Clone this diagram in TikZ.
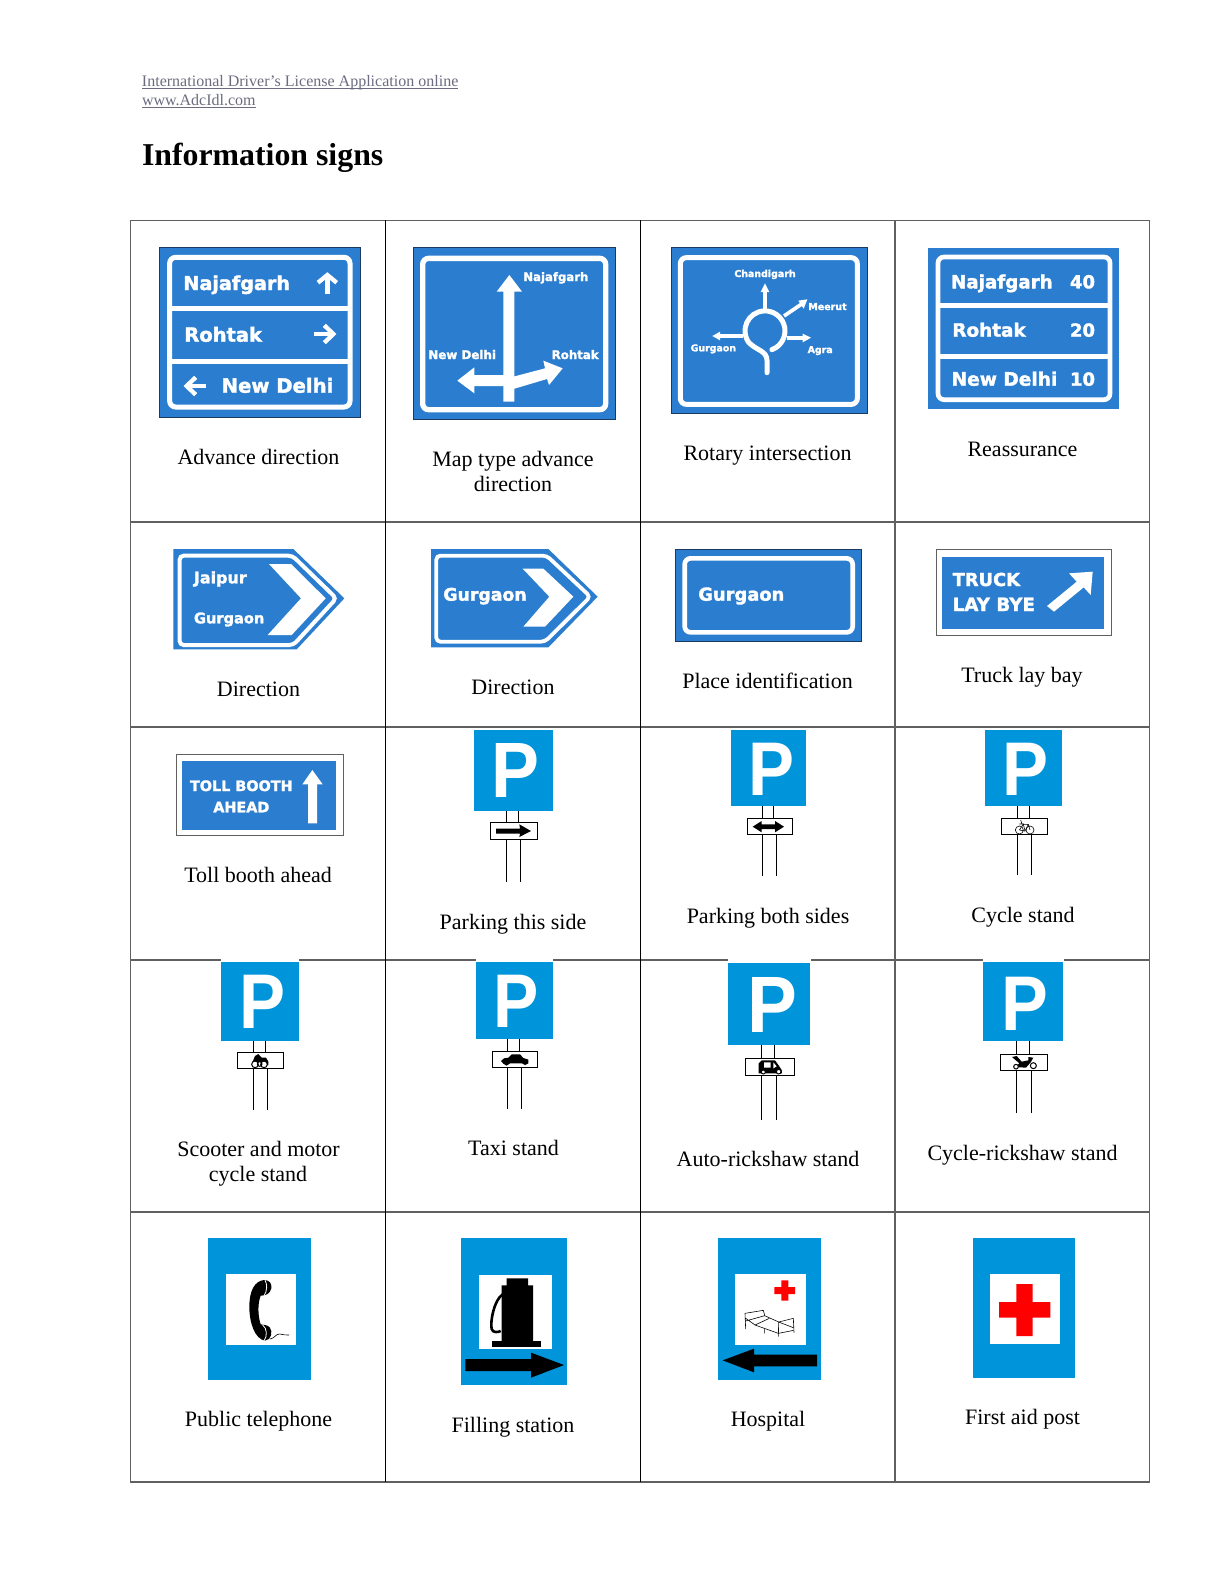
\documentclass[tikz,border=0pt]{standalone}
\usepackage{graphicx}
\usepackage{fontspec}
\setmainfont{Liberation Serif}
\newfontfamily\sgn[UprightFont=* Bold,FakeBold=1.8]{DejaVu Sans}
\newfontfamily\pfont[UprightFont=* Bold]{Liberation Sans}
\definecolor{sblue}{HTML}{2B7DD0}
\definecolor{pblue}{HTML}{0095DA}
\definecolor{gridg}{HTML}{606060}
\definecolor{hdr}{HTML}{6C6C80}
\definecolor{sedge}{HTML}{1B3A60}
\tikzset{
 z/.style 2 args={shift={(#1,#2)},x=0.166667pt,y=-0.166667pt},
 shown/.style={x=0.50495pt,y=-0.50495pt},
 signbg/.style={fill=sblue,draw=sedge,line width=.4pt},
 signplain/.style={fill=sblue},
 sborder/.style={draw=white,line width=#1/6 pt,rounded corners=3pt},
 sbar/.style={draw=white,line width=#1/6 pt},
 stxt/.style={text=white,font=\sgn},
 warr/.style={fill=white},
 warl/.style={draw=white,line width=#1/6 pt,miter limit=10},
 barr/.style={fill=black},
 capt/.style={anchor=base,inner sep=0pt,font=\fontsize{11}{13}\selectfont},
 post/.style={draw=black,line width=.45pt},
 plate/.style={draw=black,fill=white,line width=.5pt},
 thinbox/.style={draw=gridg,fill=white,line width=.5pt},
 gridline/.style={draw=gridg,line width=.6pt},
 gridblack/.style={draw=black,line width=.45pt},
 hdrline/.style={draw=hdr,line width=.4pt},
 bedline/.style={draw=black,line width=.3pt},
}
\newcommand\fitt[6]{%
 \pgfmathsetmacro\fW{(#3-#2)/6}\pgfmathsetmacro\fX{(#2+#3)/2}%
 \node[anchor=base,inner sep=0pt,#5] (#1) at (\fX,#4) {\resizebox{\fW pt}{!}{#6}};}
% name, blue x0 x1 y0 y1, P x0 x1 y0 y1
\newcommand\psign[9]{%
 \fill[pblue] (#2,#4) rectangle (#3,#5);
 \pgfmathsetmacro\fW{(#7-#6)*1.15/6}\pgfmathsetmacro\fH{(#9-#8)/6}\pgfmathsetmacro\fX{(#6+#7)/2-1}%
 \node[anchor=base,inner sep=0pt,text=white,font=\pfont] (#1) at (\fX,#9) {\resizebox{\fW pt}{\fH pt}{P}};}
\begin{document}
\begin{tikzpicture}[x=0.5pt,y=-0.5pt]
\useasboundingbox (0,0) rectangle (1224,1584);
\fill[white] (0,0) rectangle (1224,1584);
% grid
\draw[gridline] (130.5,220.3) rectangle (1149.5,1482);
\foreach \yy in {522,727,960,1212} \draw[gridline] (130.5,\yy) -- (1149.5,\yy);
\draw[gridblack] (385.3,220.3) -- (385.3,1482);
\draw[gridblack] (640.3,220.3) -- (640.3,1482);
\draw[gridline] (895,220.3) -- (895,1482);

% header + first row left
\begin{scope}[z={130}{60}]
\fitt{h1}{36}{985}{80}{text=hdr}{International Driver’s License Application online}
\draw[hdrline] (36,85) -- (985,85);
\fitt{h2}{36}{377}{135}{text=hdr}{www.AdcIdl.com}
\draw[hdrline] (36,141) -- (377,141);
\fitt{title}{36}{760}{315}{}{\bfseries Information signs}
% sign 1
\draw[signbg] (88,562) rectangle (690,1071);
\draw[sborder=15] (119,592) rectangle (660,1041);
\draw[sbar=15] (119,745) -- (660,745);
\draw[sbar=15] (119,905) -- (660,905);
\fitt{a1}{160}{480}{690}{stxt}{Najafgarh}
\fitt{a2}{163}{396}{845}{stxt}{Rohtak}
\fitt{a3}{275}{610}{998}{stxt}{New Delhi}
\draw[warl=13] (592,702) -- (592,645);
\draw[warl=13] (564,668) -- (592,645) -- (620,668);
\draw[warl=13] (552,822) -- (610,822);
\draw[warl=13] (583,796) -- (610,822) -- (583,848);
\draw[warl=13] (228,978) -- (170,978);
\draw[warl=13] (197,952) -- (170,978) -- (197,1004);
% sign 2
\draw[signbg] (850,563) rectangle (1457,1079);
\draw[sborder=16] (878,595) rectangle (1427,1049);
\fill[warr] (1120,1025) -- (1120,695) -- (1100,695) -- (1138,645) -- (1176,695) -- (1153,695) -- (1153,1025) -- cycle;
\fill[warr] (1125,945) -- (1033,945) -- (1033,922) -- (982,962) -- (1033,1000) -- (1033,978) -- (1125,978) -- cycle;
\fill[warr] (1150,950) -- (1245,925) -- (1240,902) -- (1298,925) -- (1257,975) -- (1251,957) -- (1150,987) -- cycle;
\fitt{b1}{1180}{1375}{663}{stxt}{Najafgarh}
\fitt{b2}{895}{1098}{897}{stxt}{New Delhi}
\fitt{b3}{1265}{1406}{897}{stxt}{Rohtak}
\end{scope}

% sign 3, 4
\begin{scope}[z={640}{230}]
\draw[signbg] (94,53) rectangle (681,551);
\draw[sborder=15] (121,83) rectangle (652,523);
\fitt{c1}{283}{467}{141}{stxt}{Chandigarh}
\fitt{c2}{505}{620}{240}{stxt}{Meerut}
\fitt{c3}{152}{288}{364}{stxt}{Gurgaon}
\fitt{c4}{503}{578}{369}{stxt}{Agra}
\draw[draw=white,line width=2.5pt,line cap=round] (395.5,359) arc[start angle=70,end angle=-215,radius=60] .. controls (350,362) and (381,362) .. (381,392) -- (381,428);
\draw[sbar=11] (375,240) -- (375,180);
\fill[warr] (375,160) -- (388,186) -- (362,186) -- cycle;
\draw[sbar=11] (440,323) -- (492,323);
\fill[warr] (513,323) -- (488,311) -- (488,337) -- cycle;
\draw[sbar=11] (310,318) -- (238,318);
\fill[warr] (217,318) -- (240,305) -- (240,331) -- cycle;
\draw[sbar=11] (432,258) -- (485,222);
\fill[warr] (502,208) -- (475,212) -- (491,236) -- cycle;
\fill[signplain] (865,53) rectangle (1437,536);
\draw[sborder=14] (894,81) rectangle (1410,509);
\draw[sbar=15] (894,226) -- (1410,226);
\draw[sbar=15] (894,378) -- (1410,378);
\fitt{d1}{933}{1238}{175}{stxt}{Najafgarh}
\fitt{d2}{1290}{1365}{175}{stxt}{40}
\fitt{d3}{937}{1157}{320}{stxt}{Rohtak}
\fitt{d4}{1290}{1365}{320}{stxt}{20}
\fitt{d5}{935}{1252}{467}{stxt}{New Delhi}
\fitt{d6}{1290}{1365}{467}{stxt}{10}
\end{scope}

% row 2 left
\begin{scope}[z={130}{530}]
\fill[sblue] (130,57) -- (490,57) -- (643,205) -- (500,358) -- (130,358) -- cycle;
\draw[draw=white,line width=2pt,rounded corners=2pt] (619,205) -- (487,77) -- (149,77) -- (149,345) -- (490,345) -- cycle;
\fill[warr] (417,102) -- (483,102) -- (587,205) -- (485,315) -- (413,315) -- (513,205) -- cycle;
\fitt{e1}{192}{350}{160}{stxt}{Jaipur}
\fitt{e2}{192}{403}{280}{stxt}{Gurgaon}
\fill[sblue] (903,57) -- (1255,57) -- (1403,200) -- (1255,352) -- (903,352) -- cycle;
\draw[draw=white,line width=1.9pt,rounded corners=2pt] (1381,200) -- (1250,77) -- (919,77) -- (919,335) -- (1245,335) -- cycle;
\fill[warr] (1178,116) -- (1240,116) -- (1330,200) -- (1245,290) -- (1180,290) -- (1258,200) -- cycle;
\fitt{f1}{940}{1190}{212}{stxt}{Gurgaon}
\end{scope}
\begin{scope}[z={650}{530}]
\draw[signbg] (77,57) rectangle (635,335);
\draw[sborder=14] (104,85) rectangle (608,307);
\fitt{g1}{145}{403}{212}{stxt}{Gurgaon}
\draw[thinbox] (858,57) rectangle (1385,316);
\fill[signplain] (876,81) rectangle (1362,298);
\fitt{g2}{908}{1110}{168}{stxt}{TRUCK}
\fitt{g3}{908}{1155}{243}{stxt}{LAY BYE}
\fill[warr] (1191,228) -- (1280,155) -- (1257,130) -- (1328,125) -- (1322,195) -- (1301,172) -- (1212,245) -- cycle;
\end{scope}

% row 3
\begin{scope}[z={160}{725}]
\draw[thinbox] (49,87) rectangle (549,331);
\fill[signplain] (66,109) rectangle (528,315);
\fitt{i1}{90}{398}{198}{stxt}{TOLL BOOTH}
\fitt{i2}{160}{328}{262}{stxt}{AHEAD}
\fill[warr] (444,295) -- (444,178) -- (427,178) -- (457,135) -- (488,178) -- (471,178) -- (471,295) -- cycle;
\psign{p1}{942}{1178}{15}{257}{1005}{1130}{55}{217}
\draw[post] (1040,257) -- (1040,472) (1075,257) -- (1075,292) (1081,344) -- (1081,472);
\draw[plate] (991,292) rectangle (1133,344);
\fill[barr] (1008,311) -- (1080,311) -- (1078,298) -- (1113,318) -- (1078,336) -- (1080,326) -- (1008,326) -- cycle;
\end{scope}
\begin{scope}[z={700}{725}]
\psign{p2}{93}{319}{15}{244}{155}{275}{53}{210}
\draw[post] (186,244) -- (186,454) (221,244) -- (221,280) (228,328) -- (228,454);
\draw[plate] (142,280) rectangle (276,328);
\fill[barr] (158,305) -- (185,288) -- (185,298) -- (225,298) -- (225,288) -- (252,305) -- (225,322) -- (225,312) -- (185,312) -- (185,322) -- cycle;
\psign{p3}{856}{1085}{15}{244}{918}{1038}{53}{210}
\draw[post] (952,244) -- (952,450) (987,244) -- (987,280) (993,328) -- (993,450);
\draw[plate] (904,280) rectangle (1041,328);
\draw[bedline] (958,315) circle[radius=12] (990,315) circle[radius=12];
\draw[bedline] (958,315) -- (970,298) -- (985,298) -- (990,315) (970,298) -- (975,318) -- (985,298) (958,315) -- (975,318) (962,285) -- (966,298) (958,297) -- (972,297);
\end{scope}

% row 4
\fill[white] (221,957) rectangle (299,962);
\fill[white] (476,957) rectangle (553,962);
\fill[white] (728,957) rectangle (811,962);
\fill[white] (983,957) rectangle (1064,962);
\begin{scope}[z={200}{955}]
\psign{p4}{64}{296}{21}{257}{127}{247}{60}{220}
\draw[post] (161,257) -- (161,465) (196,257) -- (196,292) (203,340) -- (203,465);
\draw[plate] (112,292) rectangle (251,340);
\fill[barr] (158,320) -- (165,303) -- (175,297) -- (185,308) -- (198,308) -- (205,320) -- (205,330) -- (160,330) -- cycle;
\draw[draw=black,fill=white,line width=.5pt] (165,328) circle[radius=10] (192,328) circle[radius=10] (179,327) circle[radius=7];
\psign{p5}{828}{1058}{21}{253}{890}{1008}{60}{217}
\draw[post] (923,253) -- (923,463) (958,253) -- (958,289) (964,337) -- (964,463);
\draw[plate] (877,289) rectangle (1012,337);
\fill[barr] (903,318) -- (912,310) -- (925,308) -- (935,298) -- (960,298) -- (970,309) -- (985,314) -- (985,325) -- (975,330) -- (966,325) -- (930,325) -- (920,332) -- (910,326) -- cycle;
\end{scope}
\begin{scope}[z={700}{955}]
\psign{p6}{84}{331}{24}{271}{152}{282}{67}{232}
\draw[post] (185,271) -- (185,495) (223,271) -- (223,310) (229,361) -- (229,495);
\draw[plate] (136,310) rectangle (284,361);
\fill[barr] (176,352) -- (176,325) -- (185,316) -- (225,316) -- (235,330) -- (245,345) -- (246,355) -- (176,355) -- cycle;
\fill[white] (192,322) -- (212,322) -- (212,338) -- (192,338) -- cycle (220,322) -- (230,334) -- (220,340) -- cycle;
\draw[draw=black,fill=white,line width=.5pt] (190,351) circle[radius=6] (236,350) circle[radius=7];
\psign{p7}{850}{1090}{21}{259}{916}{1038}{65}{225}
\draw[post] (950,259) -- (950,473) (989,259) -- (989,298) (994,347) -- (994,473);
\draw[plate] (901,298) rectangle (1043,347);
\fill[barr] (936,306) -- (950,303) -- (965,320) -- (985,316) -- (985,306) -- (1000,308) -- (992,322) -- (978,338) -- (945,336) -- (958,325) -- cycle;
\draw[draw=black,fill=white,line width=.5pt] (948,335) circle[radius=7] (1000,332) circle[radius=9];
\end{scope}

% row 5
\begin{scope}[z={190}{1225}]
\fill[pblue] (55,40) rectangle (362,464);
\fill[white] (107,147) rectangle (319,360);
\fill[barr] (222,165) .. controls (195,168) and (178,195) .. (178,245) .. controls (178,295) and (195,342) .. (225,347) .. controls (245,345) and (248,320) .. (240,308) .. controls (232,298) and (218,300) .. (212,298) .. controls (203,270) and (203,235) .. (212,212) .. controls (225,212) and (240,208) .. (244,190) .. controls (246,175) and (238,165) .. (222,165) -- cycle;
\draw[draw=white,line width=.4pt] (225,166) .. controls (232,175) and (232,200) .. (222,212) (218,300) .. controls (232,310) and (232,335) .. (222,347);
\draw[draw=black,line width=.3pt] (240,342) .. controls (255,340) and (258,325) .. (270,327) .. controls (280,328) and (288,332) .. (297,330);
\fill[pblue] (812,40) rectangle (1130,479);
\fill[white] (866,151) rectangle (1086,372);
\fill[barr] (950,160) -- (1014,160) -- (1014,181) -- (1029,181) -- (1029,348) -- (935,348) -- (935,181) -- (950,181) -- cycle;
\fill[barr] (906,348) rectangle (1054,366);
\draw[draw=black,line width=1.3pt] (938,208) .. controls (912,225) and (900,290) .. (905,312) .. controls (908,324) and (925,322) .. (932,318);
\fill[barr] (826,402) -- (1023,402) -- (1023,383) -- (1122,420) -- (1023,458) -- (1023,438) -- (826,438) -- cycle;
\end{scope}
\begin{scope}[z={700}{1225}]
\fill[pblue] (53,40) rectangle (362,464);
\fill[white] (105,147) rectangle (318,360);
\fill[red] (244,166) rectangle (265,227) (223,186) rectangle (285,207);
\draw[bedline] (135,265) -- (190,256) -- (194,272) -- (236,291) -- (280,280) -- (282,323);
\draw[bedline] (135,265) -- (137,312) (137,280) -- (165,300) -- (235,325) -- (281,316) (137,288) -- (194,272) (165,300) -- (208,280) (236,291) -- (235,335) (236,291) -- (280,308) (193,312) -- (193,325);
\fill[barr] (351,389) -- (162,389) -- (162,371) -- (68,406) -- (162,442) -- (162,424) -- (351,424) -- cycle;
\fill[pblue] (820,40) rectangle (1124,459);
\fill[white] (871,146) rectangle (1081,357);
\fill[red] (949,177) rectangle (998,333) (897,231) rectangle (1051,278);
\end{scope}

% captions
\begin{scope}[shown]
\node[capt] (t1) at (256,460) {Advance direction};
\node[capt] (t2a) at (508,462) {Map type advance};
\node[capt] (t2b) at (508,487) {direction};
\node[capt] (t3) at (760,456) {Rotary intersection};
\node[capt] (t4) at (1012.5,452) {Reassurance};
\node[capt] (t5) at (256,690) {Direction};
\node[capt] (t6) at (508,688) {Direction};
\node[capt] (t7) at (760,682) {Place identification};
\node[capt] (t8) at (1012,676) {Truck lay bay};
\node[capt] (t9) at (255.5,874) {Toll booth ahead};
\node[capt] (t10) at (508,920) {Parking this side};
\node[capt] (t11) at (760.5,914) {Parking both sides};
\node[capt] (t12) at (1013,913) {Cycle stand};
\node[capt] (t13a) at (256,1145) {Scooter and motor};
\node[capt] (t13b) at (255.5,1170) {cycle stand};
\node[capt] (t14) at (508.5,1144) {Taxi stand};
\node[capt] (t15) at (760.5,1155) {Auto-rickshaw stand};
\node[capt] (t16) at (1012.5,1149) {Cycle-rickshaw stand};
\node[capt] (t17) at (256,1413) {Public telephone};
\node[capt] (t18) at (508,1418) {Filling station};
\node[capt] (t19) at (760.5,1413) {Hospital};
\node[capt] (t20) at (1012.5,1411) {First aid post};
\end{scope}
\end{tikzpicture}
\end{document}
